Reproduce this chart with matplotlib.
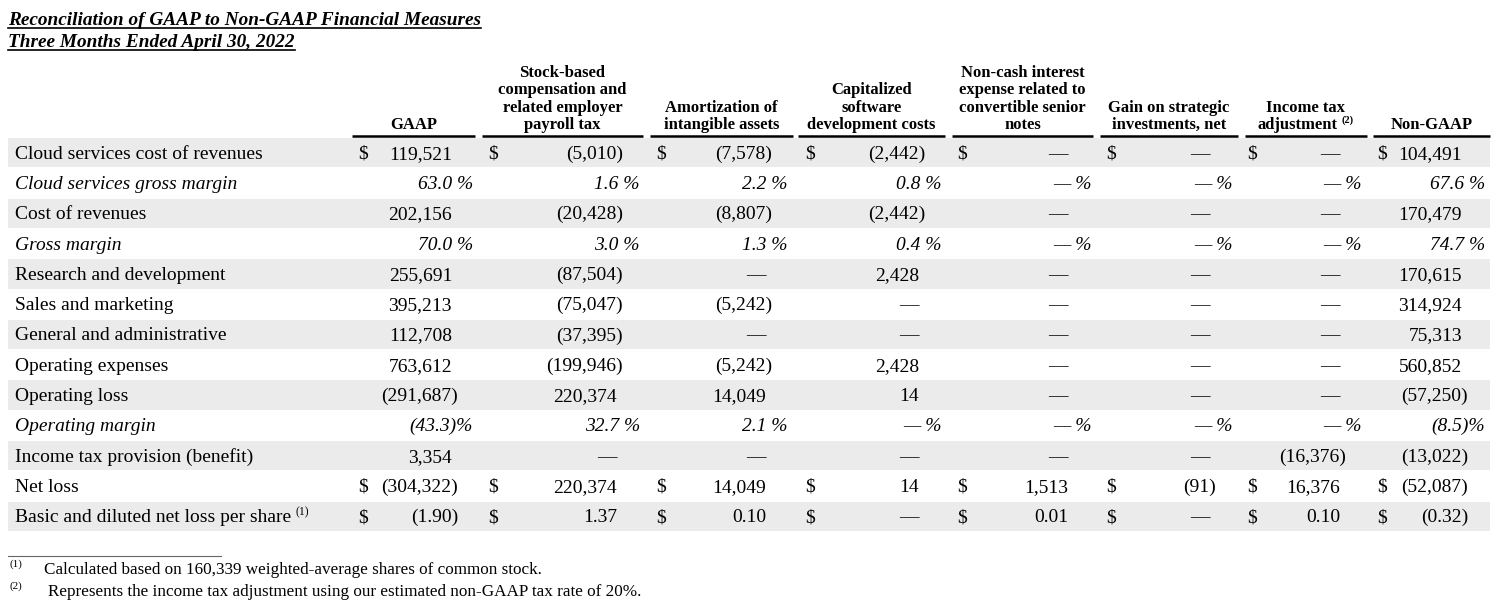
import matplotlib
matplotlib.use("Agg")
import matplotlib.pyplot as plt

plt.rcParams['font.family'] = ['Liberation Serif', 'DejaVu Serif']

# ---- data ----
title_lines = ["Reconciliation of GAAP to Non-GAAP Financial Measures",
               "Three Months Ended April 30, 2022"]

headers = [["GAAP"],
           ["Stock-based", "compensation and", "related employer", "payroll tax"],
           ["Amortization of", "intangible assets"],
           ["Capitalized", "software", "development costs"],
           ["Non-cash interest", "expense related to", "convertible senior", "notes"],
           ["Gain on strategic", "investments, net"],
           ["Income tax", "adjustment"],
           ["Non-GAAP"]]
header_sup = [None, None, None, None, None, None, "(2)", None]

row_labels = ["Cloud services cost of revenues", "Cloud services gross margin",
              "Cost of revenues", "Gross margin", "Research and development",
              "Sales and marketing", "General and administrative", "Operating expenses",
              "Operating loss", "Operating margin", "Income tax provision (benefit)",
              "Net loss", "Basic and diluted net loss per share"]
label_sup = {12: "(1)"}
pct_rows = [1, 3, 9]
dollar_rows = [0, 11, 12]

gaap = ["119,521", "63.0 %", "202,156", "70.0 %", "255,691", "395,213", "112,708",
        "763,612", "(291,687)", "(43.3)%", "3,354", "(304,322)", "(1.90)"]
stock_comp = ["(5,010)", "1.6 %", "(20,428)", "3.0 %", "(87,504)", "(75,047)", "(37,395)",
              "(199,946)", "220,374", "32.7 %", "—", "220,374", "1.37"]
amortization = ["(7,578)", "2.2 %", "(8,807)", "1.3 %", "—", "(5,242)", "—",
                "(5,242)", "14,049", "2.1 %", "—", "14,049", "0.10"]
cap_software = ["(2,442)", "0.8 %", "(2,442)", "0.4 %", "2,428", "—", "—",
                "2,428", "14", "— %", "—", "14", "—"]
noncash_interest = ["—", "— %", "—", "— %", "—", "—", "—",
                    "—", "—", "— %", "—", "1,513", "0.01"]
gain_strategic = ["—", "— %", "—", "— %", "—", "—", "—",
                  "—", "—", "— %", "—", "(91)", "—"]
income_tax_adj = ["—", "— %", "—", "— %", "—", "—", "—",
                  "—", "—", "— %", "(16,376)", "16,376", "0.10"]
non_gaap = ["104,491", "67.6 %", "170,479", "74.7 %", "170,615", "314,924", "75,313",
            "560,852", "(57,250)", "(8.5)%", "(13,022)", "(52,087)", "(0.32)"]
columns = [gaap, stock_comp, amortization, cap_software, noncash_interest,
           gain_strategic, income_tax_adj, non_gaap]

footnotes = [("(1)", "Calculated based on 160,339 weighted-average shares of common stock."),
             ("(2)", "Represents the income tax adjustment using our estimated non-GAAP tax rate of 20%.")]

# ---- layout (pixels) ----
W, H = 1500, 611
line_l = [352, 482, 650, 798, 952, 1100, 1245, 1373]
line_r = [475, 643, 793, 945, 1093, 1238, 1367, 1490]
dollar_x = [358, 488, 656, 805, 957, 1106, 1247, 1377]
val_end = [452, 617, 766, 919, 1068, 1210, 1340, 1462]
pct_end = [473, 640, 788, 942, 1092, 1233, 1362, 1485]
row_top = 138
row_h = 30.3
fs = 14
gray = "#ebebeb"

fig = plt.figure(figsize=(W / 100, H / 100), dpi=100)
ax = fig.add_axes([0, 0, 1, 1])
ax.set_xlim(0, W)
ax.set_ylim(H, 0)
ax.axis('off')
fig.canvas.draw()
renderer = fig.canvas.get_renderer()


def extent(t):
    return t.get_window_extent(renderer).transformed(ax.transData.inverted())


# title, bold italic underlined
for i, line in enumerate(title_lines):
    y = 25 + i * 22
    t = ax.text(8, y, line, fontsize=13.9, fontweight='bold', fontstyle='italic',
                ha='left', va='baseline')
    bb = extent(t)
    ax.plot([bb.x0, bb.x1], [y + 3, y + 3], color='black', lw=1.2)

# headers
for c, lines in enumerate(headers):
    cx = (line_l[c] + line_r[c]) / 2
    n = len(lines)
    for k, line in enumerate(lines):
        y = 129 - (n - 1 - k) * 17.3
        if header_sup[c] and k == n - 1:
            t = ax.text(cx - 8, y, line, fontsize=12, fontweight='bold', ha='center', va='baseline')
            bb = extent(t)
            ax.text(bb.x1 + 3, y - 6, header_sup[c], fontsize=7.5, fontweight='bold',
                    ha='left', va='baseline')
        else:
            ax.text(cx, y, line, fontsize=12, fontweight='bold', ha='center', va='baseline')
    ax.plot([line_l[c], line_r[c]], [135.5, 135.5], color='black', lw=1.8, solid_capstyle='butt')

# rows
for r, label in enumerate(row_labels):
    top = row_top + r * row_h
    yc = top + row_h / 2
    base = yc + 5.5
    if r % 2 == 0:
        ax.fill_between([8, 1490], top, top + row_h - 1, color=gray, lw=0)
    style = 'italic' if r in pct_rows else 'normal'
    t = ax.text(15, base, label, fontsize=fs, fontstyle=style, ha='left', va='baseline')
    if r in label_sup:
        bb = extent(t)
        ax.text(bb.x1 + 4, yc - 1.5, label_sup[r], fontsize=8.5, ha='left', va='baseline')
    for c, col in enumerate(columns):
        v = col[r]
        if r in pct_rows:
            ax.text(pct_end[c], base, v, fontsize=fs, fontstyle='italic',
                    ha='right', va='baseline')
            continue
        x = val_end[c] + (6 if v.endswith(')') else 0)
        ax.text(x, base, v, fontsize=fs, ha='right', va='baseline')
        if r in dollar_rows:
            ax.text(dollar_x[c], base, "$", fontsize=fs, ha='left', va='baseline')

# footnotes
ax.plot([8, 221], [556, 556], color='#666666', lw=0.8)
for i, (mark, txt) in enumerate(footnotes):
    y = 574 + i * 22
    ax.text(9, y - 7, mark, fontsize=8, ha='left', va='baseline')
    ax.text(44 if i == 0 else 48, y, txt, fontsize=12.3, ha='left', va='baseline')

fig.savefig("out.png", dpi=100)
